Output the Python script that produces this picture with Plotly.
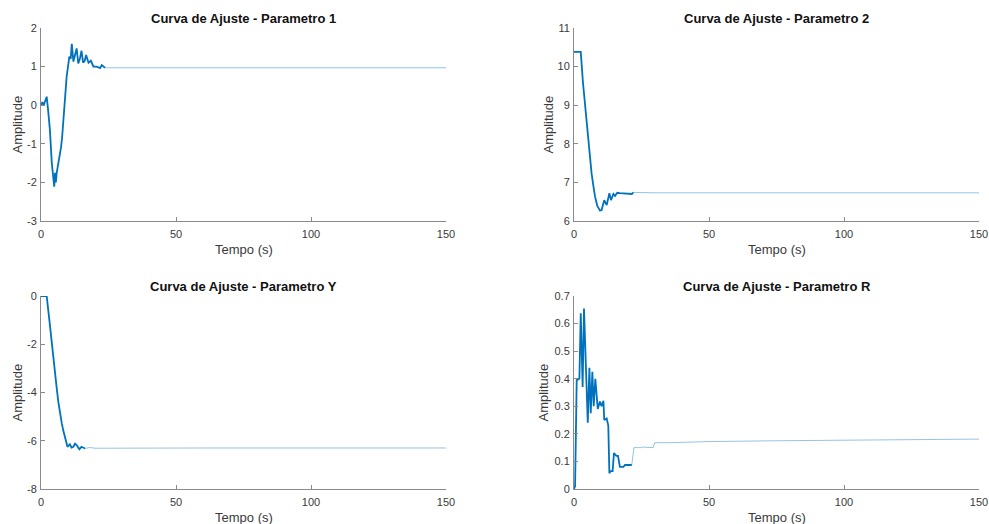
import plotly.graph_objects as go

# ---- data: time (s) and amplitude for each fitted parameter ----
t_p1 = [0.0, 0.5, 1.0, 1.5, 2.1, 2.6, 3.3, 4.0, 4.3, 4.6, 4.9, 5.2, 5.5, 5.8, 6.2, 6.6,
        7.0, 7.4, 7.8, 8.3, 8.8, 9.5, 10.0, 10.5, 11.0, 11.4, 12.0, 12.6, 13.2, 13.8,
        14.4, 15.0, 15.6, 16.2, 16.7, 17.6, 18.5, 19.4, 20.6, 21.9, 22.5, 23.7,
        30, 40, 60, 80, 100, 120, 150]
y_p1 = [0.0, 0.08, 0.0, 0.1, 0.22, -0.1, -0.64, -1.5, -1.75, -1.8, -2.11, -1.75, -2.0, -1.76, -1.6, -1.45,
        -1.24, -1.1, -0.85, -0.3, 0.1, 0.74, 1.0, 1.26, 1.2, 1.59, 1.13, 1.35, 1.47, 1.08,
        1.2, 1.41, 1.1, 1.15, 1.3, 1.1, 1.15, 1.0, 1.0, 0.96, 1.04, 0.97,
        0.97, 0.97, 0.97, 0.97, 0.97, 0.97, 0.97]

t_p2 = [0, 0.4, 2.5, 3.3, 4.1, 4.7, 5.3, 5.9, 6.5, 7.2, 7.8, 8.6, 9.6, 10.2, 11.2, 12.1,
        13.1, 13.7, 14.6, 15.2, 16.0, 17.0, 19.0, 21.4, 22.0, 30, 60, 100, 150]
y_p2 = [10.38, 10.38, 10.38, 9.6, 8.96, 8.5, 8.01, 7.6, 7.24, 6.9, 6.63, 6.4, 6.27, 6.28, 6.54, 6.41,
        6.72, 6.54, 6.70, 6.65, 6.73, 6.72, 6.71, 6.70, 6.74, 6.73, 6.73, 6.73, 6.73]

t_py = [0, 1.0, 2.1, 3.0, 4.0, 4.6, 5.2, 5.8, 6.4, 7.0, 7.7, 8.3, 8.9, 9.4, 9.8, 10.7,
        11.3, 12.0, 12.6, 13.2, 14.2, 15.0, 16.3, 18, 20, 30, 60, 100, 150]
y_py = [0, 0, 0, -0.9, -2.03, -2.6, -3.14, -3.8, -4.38, -4.85, -5.28, -5.6, -5.9, -6.1, -6.25, -6.15,
        -6.28, -6.25, -6.12, -6.18, -6.35, -6.25, -6.32, -6.28, -6.31, -6.3, -6.3, -6.3, -6.3]

t_pr = [0, 0.4, 1.0, 1.6, 2.0, 2.5, 3.0, 3.2, 3.7, 4.3, 5.1, 5.7, 6.2, 6.8, 7.3, 7.9,
        8.8, 9.6, 10.2, 10.9, 11.2, 12.1, 12.7, 13.1, 13.5, 14.3, 14.8, 15.7, 16.3, 17.0,
        18.3, 18.9, 21.4, 22.2, 25.0, 25.4, 29.3, 29.9, 35.5, 50, 75, 100, 125, 150]
y_pr = [0, 0.01, 0.395, 0.40, 0.40, 0.637, 0.40, 0.37, 0.655, 0.45, 0.24, 0.44, 0.275, 0.425, 0.30, 0.40,
        0.29, 0.317, 0.30, 0.32, 0.25, 0.256, 0.23, 0.057, 0.065, 0.065, 0.13, 0.12, 0.12, 0.08,
        0.08, 0.087, 0.087, 0.15, 0.15, 0.152, 0.15, 0.168, 0.168, 0.172, 0.175, 0.177, 0.179, 0.181]

titles = ["Curva de Ajuste - Parametro 1", "Curva de Ajuste - Parametro 2",
          "Curva de Ajuste - Parametro Y", "Curva de Ajuste - Parametro R"]
x_ticks = [0, 50, 100, 150]
y_ticks = [
    [-3, -2, -1, 0, 1, 2],
    [6, 7, 8, 9, 10, 11],
    [-8, -6, -4, -2, 0],
    [0, 0.1, 0.2, 0.3, 0.4, 0.5, 0.6, 0.7],
]
# time after which each curve is drawn as the settled (thin) tail
settle_t = [23.7, 22.0, 16.3, 21.4]

series = [(t_p1, y_p1), (t_p2, y_p2), (t_py, y_py), (t_pr, y_pr)]

W, H = 989, 524
FONT = "Liberation Sans, Arial, Helvetica, sans-serif"
LINE = "#0072BD"
TAIL = "rgba(0,114,189,0.42)"
AXIS = "#8a8a8a"
TEXT = "#3a3a3a"

# pixel boxes of the four axes: (left, right, top, bottom)
boxes = [(41, 446, 28, 221), (574, 979, 28, 221),
         (41, 446, 296, 489), (574, 979, 296, 489)]
# distance of the y-axis label from the axis line, px (wider tick labels push it out)
ylabel_gap = [24, 26, 24, 31]

fig = go.Figure()
annotations = []
layout_axes = {}

for i, ((t, y), box, yt, title, ts, gap) in enumerate(
        zip(series, boxes, y_ticks, titles, settle_t, ylabel_gap)):
    n = i + 1
    xa = "x" if n == 1 else f"x{n}"
    ya = "y" if n == 1 else f"y{n}"
    k = t.index(ts)
    fig.add_trace(go.Scatter(x=t[k:], y=y[k:], mode="lines", xaxis=xa, yaxis=ya,
                             line=dict(color=TAIL, width=1), showlegend=False, hoverinfo="x+y"))
    fig.add_trace(go.Scatter(x=t[:k + 1], y=y[:k + 1], mode="lines", xaxis=xa, yaxis=ya,
                             line=dict(color=LINE, width=1.8), showlegend=False, hoverinfo="x+y"))

    left, right, top, bottom = box
    xdom = [left / W, right / W]
    ydom = [1 - bottom / H, 1 - top / H]
    common = dict(showgrid=False, zeroline=False, showline=True, linecolor=AXIS, linewidth=1,
                  ticks="inside", ticklen=4, tickcolor=AXIS, tickwidth=1, mirror=False,
                  automargin=False, tickfont=dict(family=FONT, size=11, color=TEXT),
                  fixedrange=True)
    layout_axes["xaxis" if n == 1 else f"xaxis{n}"] = dict(
        domain=xdom, range=[0, 150], anchor=ya, tickvals=x_ticks,
        ticktext=[str(v) for v in x_ticks], ticklabelstandoff=3, **common)
    layout_axes["yaxis" if n == 1 else f"yaxis{n}"] = dict(
        domain=ydom, range=[yt[0], yt[-1]], anchor=xa, tickvals=yt,
        ticktext=[f"{v:g}" for v in yt], ticklabelstandoff=1, **common)

    cx = (left + right) / 2 / W
    annotations.append(dict(text=f"<b>{title}</b>", x=cx, y=1 - (top - 10) / H,
                            xref="paper", yref="paper", xanchor="center", yanchor="middle",
                            showarrow=False, font=dict(family=FONT, size=13, color="#111111")))
    annotations.append(dict(text="Tempo (s)", x=cx, y=1 - (bottom + 28) / H,
                            xref="paper", yref="paper", xanchor="center", yanchor="middle",
                            showarrow=False, font=dict(family=FONT, size=13, color=TEXT)))
    annotations.append(dict(text="Amplitude", x=(left - gap) / W, y=1 - (top + bottom) / 2 / H,
                            xref="paper", yref="paper", xanchor="center", yanchor="middle",
                            textangle=-90, showarrow=False,
                            font=dict(family=FONT, size=13, color=TEXT)))

fig.update_layout(width=W, height=H, margin=dict(l=0, r=0, t=0, b=0),
                  paper_bgcolor="white", plot_bgcolor="white",
                  annotations=annotations, **layout_axes)

fig.write_html("out.html", config={"displayModeBar": False})
